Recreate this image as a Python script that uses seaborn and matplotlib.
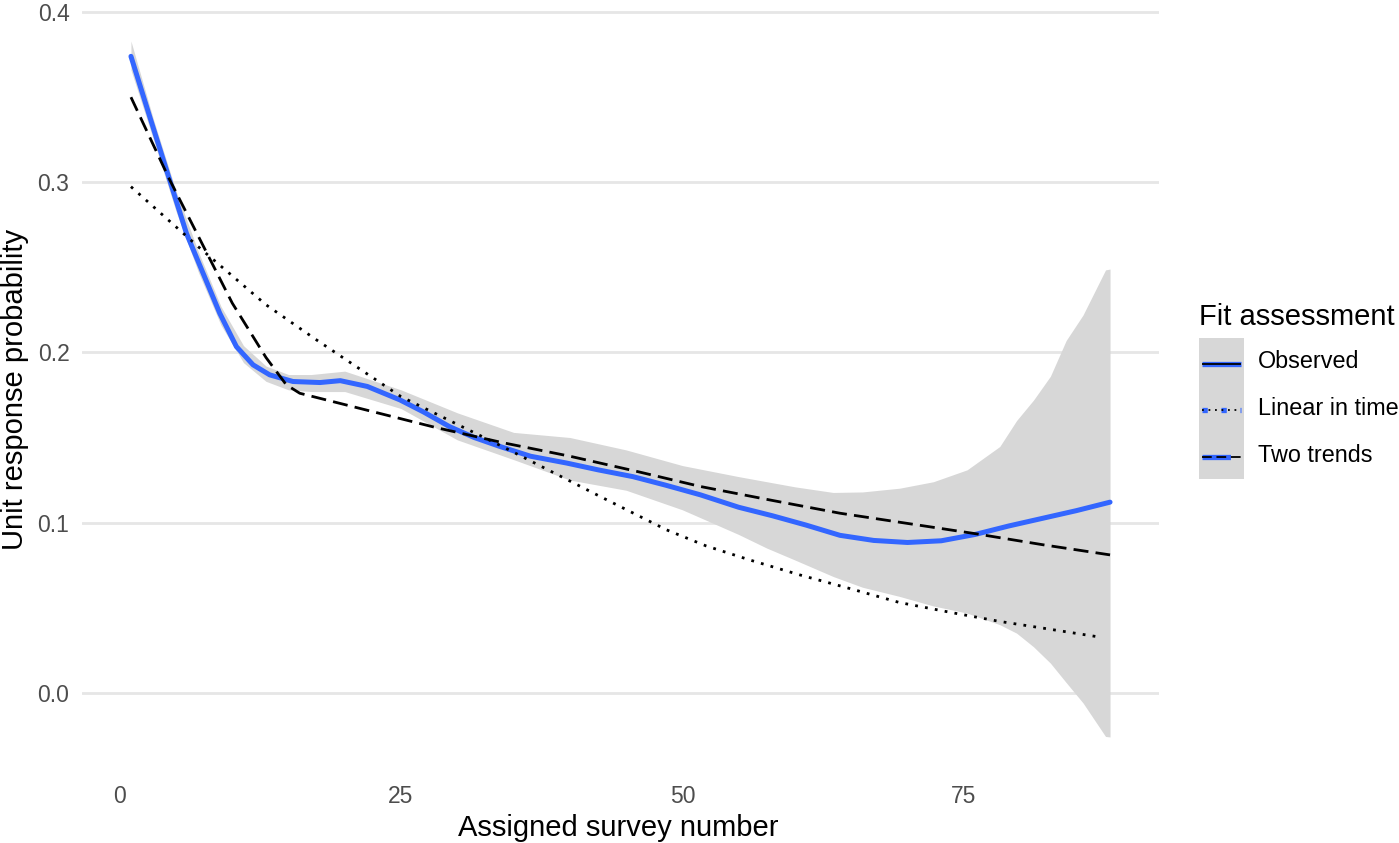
import numpy as np
import pandas as pd
import matplotlib
matplotlib.use("Agg")
import matplotlib.pyplot as plt
import seaborn as sns
from matplotlib.lines import Line2D
from matplotlib.patches import Rectangle
from matplotlib.legend_handler import HandlerBase

# observed smooth (blue)
obs_x = [1, 2.67, 4.44, 5.93, 7.41, 8.89, 10.37, 11.85, 13.33, 15.4, 17.8, 19.6, 22, 24.9,
         27, 29.3, 31.5, 33.8, 36.5, 39.7, 42.5, 45.6, 48.5, 51.6, 55, 58, 61, 64, 67, 70,
         73, 76, 79, 82, 85, 88]
obs_y = [0.374, 0.3385, 0.3013, 0.270, 0.2465, 0.223, 0.2034, 0.1927, 0.1868, 0.1829, 0.1823,
         0.1834, 0.180, 0.1721, 0.165, 0.1564, 0.150, 0.1447, 0.139, 0.135, 0.131, 0.127, 0.122,
         0.1163, 0.109, 0.104, 0.0985, 0.0925, 0.0895, 0.0883, 0.0893, 0.093, 0.098, 0.1025,
         0.107, 0.112]

# confidence band around the observed smooth
band_x = [1, 3, 5, 7, 9, 11, 13, 15, 17, 20, 25, 30, 35, 40, 45, 50, 55, 57.5, 60, 63.4, 66,
          69.3, 72.3, 75.3, 78.2, 79.7, 81.2, 82.7, 84.1, 85.6, 87.6, 88]
band_lo = [0.366, 0.325, 0.283, 0.247, 0.216, 0.194, 0.183, 0.178, 0.177, 0.177, 0.167, 0.1486,
           0.137, 0.125, 0.119, 0.1075, 0.093, 0.085, 0.078, 0.0683, 0.062, 0.0566, 0.051,
           0.0468, 0.040, 0.035, 0.027, 0.0174, 0.006, -0.006, -0.0257, -0.026]
band_hi = [0.383, 0.337, 0.295, 0.259, 0.227, 0.204, 0.192, 0.187, 0.187, 0.189, 0.178, 0.1645,
           0.153, 0.150, 0.1427, 0.1335, 0.127, 0.124, 0.121, 0.1177, 0.118, 0.1202, 0.124,
           0.131, 0.1447, 0.160, 0.172, 0.186, 0.207, 0.222, 0.2485, 0.249]

# "Linear in time" model predictions (dotted)
lin_x = [1, 7, 13, 17.5, 25, 34, 42.7, 48.6, 52.1, 56, 60.4, 65, 69.3, 74, 78.2, 82, 86.8]
lin_y = [0.2974, 0.262, 0.228, 0.2073, 0.174, 0.1447, 0.1153, 0.0957, 0.0863, 0.078, 0.0693,
         0.061, 0.053, 0.047, 0.0419, 0.038, 0.033]

# "Two trends" model predictions (dashed)
two_x = [1, 4.4, 10, 13, 14.8, 16, 22, 28, 34, 40, 46, 51.6, 58, 64, 70, 76, 82, 88]
two_y = [0.350, 0.302, 0.229, 0.197, 0.181, 0.176, 0.166, 0.156, 0.147, 0.139, 0.130, 0.1212,
         0.113, 0.1055, 0.0995, 0.0935, 0.087, 0.081]

labels = ["Observed", "Linear in time", "Two trends"]

BLUE = "#3366FF"
BAND = "#D7D7D7"
DOT = [1, 2.6]
DASH = [5.4, 2.6]


class KeyHandler(HandlerBase):
    # grey key box with a thick blue line under a thin black one, ggplot style
    def __init__(self, dashes):
        super().__init__()
        self.dashes = dashes

    def create_artists(self, legend, orig_handle, xdescent, ydescent, width, height,
                       fontsize, trans):
        x0, y0 = -xdescent, -ydescent
        rect = Rectangle((x0, y0), width, height, facecolor=BAND, edgecolor="none",
                         transform=trans)
        ym = y0 + height / 2 - 1.5
        blue = Line2D([x0 + 2, x0 + width - 2], [ym, ym], color=BLUE, lw=3.8,
                      solid_capstyle="butt", dash_capstyle="butt", transform=trans)
        black = Line2D([x0 + 2, x0 + width - 2], [ym, ym], color="black", lw=1.3,
                       solid_capstyle="butt", dash_capstyle="butt", transform=trans)
        if self.dashes is not None:
            blue.set_dashes(self.dashes)
            black.set_dashes(self.dashes)
        return [rect, blue, black]


sns.set_theme(style="whitegrid")
plt.rcParams["font.family"] = ["Liberation Sans", "DejaVu Sans"]
plt.rcParams["text.color"] = "black"

fig = plt.figure(figsize=(13.99, 8.43), dpi=100)
ax = fig.add_axes([82 / 1399, 1 - 771 / 843, (1159 - 82) / 1399, (771 - 7) / 843])

ax.fill_between(band_x, band_lo, band_hi, color=BAND, lw=0, zorder=1)

sns.lineplot(x=obs_x, y=obs_y, ax=ax, color=BLUE, lw=3.6, zorder=3)
sns.lineplot(x=two_x, y=two_y, ax=ax, color="black", lw=2.0, zorder=4)
ax.lines[-1].set_dashes(DASH)
sns.lineplot(x=lin_x, y=lin_y, ax=ax, color="black", lw=2.0, zorder=4)
ax.lines[-1].set_dashes(DOT)

ax.set_xlim(-3.35, 92.35)
ax.set_ylim(-0.046, 0.403)
ax.set_xticks([0, 25, 50, 75])
ax.set_yticks([0.0, 0.1, 0.2, 0.3, 0.4])
ax.set_yticklabels(["0.0", "0.1", "0.2", "0.3", "0.4"])
ax.grid(axis="x", visible=False)
ax.grid(axis="y", color="#E6E6E6", lw=2.0)
for s in ax.spines.values():
    s.set_visible(False)
ax.set_facecolor("white")
ax.tick_params(axis="y", labelsize=16.5, labelcolor="#4D4D4D", length=0, pad=9)
ax.tick_params(axis="x", labelsize=16.5, labelcolor="#4D4D4D", length=0, pad=10)
ax.set_xlabel("Assigned survey number", fontsize=21, color="black")
ax.set_ylabel("Unit response probability", fontsize=21, color="black")
ax.xaxis.set_label_coords(0.498, -0.056)
ax.yaxis.set_label_coords(-0.049, 0.5)

handles = [Line2D([], []) for _ in labels]
hmap = {handles[0]: KeyHandler(None), handles[1]: KeyHandler(DOT), handles[2]: KeyHandler(DASH)}
leg = fig.legend(handles, labels, handler_map=hmap,
                 title="Fit assessment", loc="upper left",
                 bbox_to_anchor=(1199 / 1399, 1 - 303 / 843), borderaxespad=0,
                 frameon=False, fontsize=16.8, title_fontsize=21,
                 handlelength=1.93, handleheight=2.72, labelspacing=0,
                 handletextpad=0.6, borderpad=0, labelcolor="black")
leg._legend_box.align = "left"
leg._legend_box.sep = 5

fig.savefig("out.png", dpi=100, facecolor="white")
